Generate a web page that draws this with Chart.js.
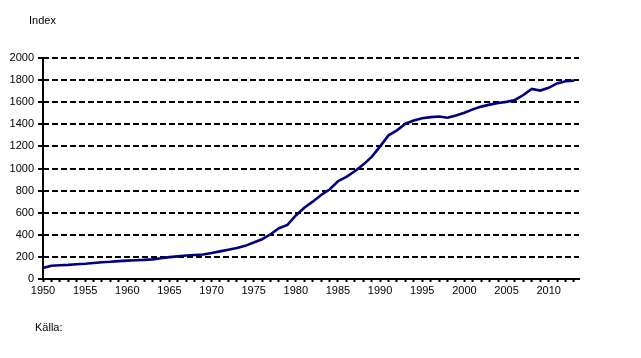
<!DOCTYPE html>
<html>
<head>
<meta charset="utf-8">
<script src="https://cdn.jsdelivr.net/npm/chart.js@4/dist/chart.umd.min.js"></script>
<style>
  html, body { margin: 0; padding: 0; background: #fff; }
  #wrap { position: relative; width: 641px; height: 358px; }
  canvas { position: absolute; left: 0; top: 0; }
  .txt { position: absolute; font-family: "Liberation Sans", Arial, sans-serif; font-size: 11px; line-height: 13px; color: #000; white-space: nowrap; }
</style>
</head>
<body>
<div id="wrap">
  <canvas id="c" width="641" height="358"></canvas>
  <div class="txt" style="left:29px; top:14px;">Index</div>
  <div class="txt" style="left:35px; top:321px;">Källa:</div>
</div>
<script>
const years = [1950,1951,1952,1953,1954,1955,1956,1957,1958,1959,
               1960,1961,1962,1963,1964,1965,1966,1967,1968,1969,
               1970,1971,1972,1973,1974,1975,1976,1977,1978,1979,
               1980,1981,1982,1983,1984,1985,1986,1987,1988,1989,
               1990,1991,1992,1993,1994,1995,1996,1997,1998,1999,
               2000,2001,2002,2003,2004,2005,2006,2007,2008,2009,
               2010,2011,2012,2013];
const indexValues = [100,120,125,128,133,138,145,152,156,162,
                     166,170,173,178,188,198,205,212,217,222,
                     235,250,265,280,300,330,360,405,460,490,
                     575,645,700,760,810,885,925,975,1035,1105,
                     1200,1300,1345,1405,1435,1455,1465,1470,1460,1480,
                     1505,1535,1560,1578,1593,1603,1620,1665,1720,1705,
                     1730,1770,1790,1795];
const yTicks = [0,200,400,600,800,1000,1200,1400,1600,1800,2000];
const xLabelYears = [1950,1955,1960,1965,1970,1975,1980,1985,1990,1995,2000,2005,2010];

const points = years.map((y, i) => ({ x: y, y: indexValues[i] }));
const FONT = { family: "'Liberation Sans', Arial, sans-serif", size: 11 };

const solidYAxis = {
  id: 'solidYAxis',
  afterDraw(chart) {
    const a = chart.chartArea, ctx = chart.ctx;
    ctx.save();
    ctx.setLineDash([]);
    ctx.strokeStyle = '#000';
    ctx.lineWidth = 2;
    ctx.beginPath();
    ctx.moveTo(a.left, a.top - 1);
    ctx.lineTo(a.left, a.bottom + 1);
    ctx.stroke();
    ctx.restore();
  }
};

new Chart(document.getElementById('c'), {
  type: 'line',
  data: {
    datasets: [{
      data: points,
      borderColor: '#000080',
      borderWidth: 2.6,
      pointRadius: 0,
      tension: 0,
      fill: false
    }]
  },
  plugins: [solidYAxis],
  options: {
    responsive: false,
    animation: false,
    events: [],
    layout: { padding: { left: 0, top: 58, right: 62, bottom: 59 } },
    plugins: { legend: { display: false }, tooltip: { enabled: false } },
    scales: {
      x: {
        type: 'linear',
        min: 1950,
        max: 2013.6,
        afterFit: s => { s.height = 20; },
        afterBuildTicks: s => {
          const t = [];
          for (let y = 1950; y <= 2013; y++) t.push({ value: y });
          s.ticks = t;
        },
        ticks: {
          autoSkip: false,
          maxRotation: 0,
          padding: 2,
          color: '#000',
          font: FONT,
          callback: v => xLabelYears.includes(v) ? String(v) : ''
        },
        grid: {
          drawOnChartArea: false,
          drawTicks: true,
          tickLength: 3,
          tickWidth: 2,
          tickColor: '#000',
          color: '#000'
        },
        border: { display: true, color: '#000', width: 2 }
      },
      y: {
        min: 0,
        max: 2000,
        afterFit: s => { s.width = 43; },
        afterBuildTicks: s => { s.ticks = yTicks.map(v => ({ value: v })); },
        ticks: {
          padding: 4,
          color: '#000',
          font: FONT,
          callback: v => String(v)
        },
        grid: {
          drawOnChartArea: true,
          drawTicks: true,
          tickLength: 5,
          tickWidth: 2,
          tickColor: '#000',
          lineWidth: ctx => ctx.tick && ctx.tick.value === 0 ? 0 : 2,
          color: '#000',
          tickBorderDash: []
        },
        border: { display: false, dash: [6, 3] }
      }
    }
  }
});
</script>
</body>
</html>
